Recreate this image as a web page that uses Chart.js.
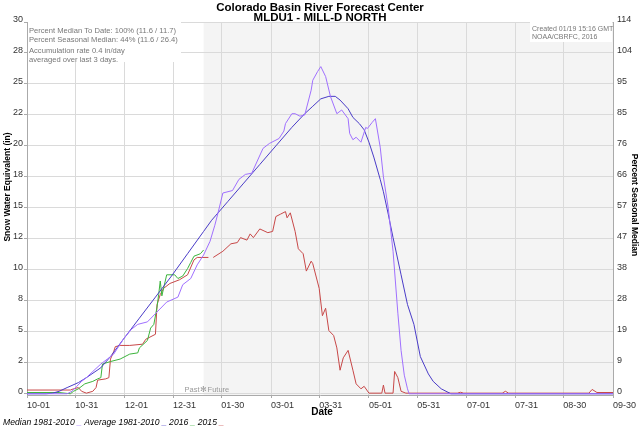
<!DOCTYPE html>
<html>
<head>
<meta charset="utf-8">
<script src="https://cdn.jsdelivr.net/npm/chart.js@4.4.1/dist/chart.umd.min.js"></script>
<style>
  html, body { margin: 0; padding: 0; background: #fff; }
  #wrap { width: 640px; height: 427px; }
</style>
</head>
<body>
<div id="wrap"><canvas id="sweChart" width="640" height="427"></canvas></div>
<script>
// x values are days since 10-01 (water year 2016 calendar)
const xTickDays   = [0, 30, 61, 91, 121, 152, 182, 213, 243, 274, 304, 334, 365];
const xTickLabels = ['10-01', '10-31', '12-01', '12-31', '01-30', '03-01', '03-31',
                     '05-01', '05-31', '07-01', '07-31', '08-30', '09-30'];

const yTickValues   = [0, 2.5, 5, 7.5, 10, 12.5, 15, 17.5, 20, 22.5, 25, 27.5, 30];
const sweTickLabels = ['0', '2', '5', '8', '10', '12', '15', '18', '20', '22', '25', '28', '30'];
const pctTickLabels = ['0', '9', '19', '28', '38', '47', '57', '66', '76', '85', '95', '104', '114'];

const todayDay = 110; // 01-19, past / future split

// Median 1981-2010
const medianDays = [0, 25, 28, 31, 34, 37, 41, 46, 50, 54, 57, 60, 65, 69, 75, 81, 87, 94, 97, 102,
  106, 110, 114, 117, 119, 122, 128, 132, 136, 140, 147, 151, 157, 160, 161, 165, 167, 170, 173, 177,
  178, 181, 183, 186, 189, 193, 196, 200, 201, 203, 205, 208, 211, 212, 215, 217, 220, 222, 225, 228,
  231, 233, 235, 237, 238, 365];
const medianSwe = [0, 0, 0.2, 0.6, 1.0, 1.3, 1.8, 2.4, 2.8, 3.2, 3.8, 4.4, 5.2, 5.6, 5.8, 6.6, 7.4, 7.8, 8.8, 9.3,
  10.4, 11.2, 12.3, 13.6, 14.6, 16.2, 16.4, 17.3, 17.7, 17.8, 19.8, 20.2, 20.6, 21.2, 21.8, 22.6, 22.6, 22.4, 22.5, 24.5,
  25.3, 26.0, 26.4, 25.6, 24.0, 22.6, 22.9, 22.2, 21.0, 20.5, 20.7, 20.3, 21.5, 21.4, 21.9, 22.2, 19.9, 17.5, 15.0, 11.5,
  6.5, 3.5, 1.5, 0.4, 0, 0];

// Average 1981-2010
const averageDays = [0, 12, 16, 20, 25, 32, 37, 46, 52, 60, 70, 80, 90, 100, 110, 115, 125, 135, 145, 155,
  165, 173, 178, 183, 188, 192, 195, 200, 203, 207, 210, 213, 216, 220, 222, 225, 228, 233, 237, 241,
  245, 250, 253, 258, 264, 365];
const averageSwe = [0, 0, 0.05, 0.2, 0.5, 0.9, 1.3, 2.1, 3.0, 4.4, 6.1, 7.8, 9.5, 11.3, 13.1, 14.0, 15.5, 17.0, 18.5, 20.0,
  21.5, 22.6, 23.2, 23.8, 24.0, 24.0, 23.7, 23.0, 22.3, 21.8, 21.3, 20.3, 19.1, 17.3, 16.3, 14.5, 12.6, 9.6, 7.2, 5.6,
  3.0, 1.6, 1.0, 0.4, 0, 0];

// 2016 (to date)
const wy2016Days = [0, 20, 27, 29, 32, 36, 41, 44, 46, 47, 52, 58, 64, 69, 70, 75, 77, 79, 81, 82,
  83, 84, 87, 92, 94, 97, 100, 102, 104, 108, 110];
const wy2016Swe = [0.1, 0.1, 0, 0.2, 0.4, 0.8, 1.0, 1.2, 1.3, 2.4, 2.6, 2.8, 3.2, 3.3, 3.7, 4.3, 5.3, 5.6, 7.0, 8.0,
  9.1, 7.9, 9.6, 9.6, 9.3, 9.5, 10.1, 10.6, 11.1, 11.3, 11.6];

// 2015
const wy2015Days = [0, 27, 29, 32, 34, 37, 41, 43, 44, 49, 51, 52, 54, 55, 58, 64, 72, 74, 80, 81,
  83, 85, 89, 95, 100, 104, 106, 113, 114, 116, 122, 127, 131, 133, 137, 139, 141, 145, 150, 153,
  155, 158, 161, 162, 164, 167, 169, 172, 174, 177, 178, 182, 184, 186, 188, 191, 193, 195, 197, 200,
  203, 205, 208, 210, 213, 221, 222, 223, 228, 229, 231, 233, 236, 268, 270, 272, 296, 298, 300, 350,
  352, 355, 365];
const wy2015Swe = [0.3, 0.3, 0.4, 0.5, 0.2, 0.05, 0.2, 0.5, 1.1, 1.2, 1.3, 2.8, 3.4, 3.8, 3.9, 3.9, 4.0, 4.4, 4.8, 7.2,
  8.0, 8.5, 8.9, 9.2, 9.6, 10.8, 11.0, 11.0, null, 11.0, 11.5, 12.1, 12.2, 12.6, 12.4, 12.9, 12.6, 13.3, 13.0, 13.1,
  14.3, 14.5, 14.7, 14.2, 14.6, 13.1, 11.7, 11.3, 9.9, 10.7, 10.5, 8.5, 6.3, 6.9, 5.1, 4.7, 3.7, 1.9, 2.9, 3.5,
  1.9, 0.8, 0.4, 0.6, 0.05, 0.05, 0.7, 0.05, 0.05, 1.8, 1.3, 0.2, 0.05, 0.05, 0.12, 0.05, 0.05, 0.2, 0.05, 0.05,
  0.35, 0.1, 0.1];

const FONT = "'Liberation Sans', Arial, sans-serif";
const pts = (days, vals) => days.map((d, i) => ({ x: d, y: vals[i] }));

// plot background: white past, light grey future
const backdrop = {
  id: 'backdrop',
  beforeDraw(chart) {
    const { ctx, chartArea: a, scales: { x } } = chart;
    const split = x.getPixelForValue(todayDay);
    ctx.save();
    ctx.fillStyle = '#ffffff';
    ctx.fillRect(a.left, a.top, split - a.left, a.bottom - a.top);
    ctx.fillStyle = '#f4f4f4';
    ctx.fillRect(split, a.top, a.right - split, a.bottom - a.top);
    ctx.restore();
  }
};

// titles, notes and the text-style legend
const labels = {
  id: 'labels',
  afterDraw(chart) {
    const { ctx, chartArea: a, scales: { x } } = chart;
    ctx.save();

    // note boxes
    ctx.fillStyle = '#ffffff';
    ctx.fillRect(a.left + 1, a.top, 153, 40);
    ctx.fillRect(530, a.top, a.right - 531, 20);
    ctx.fillStyle = '#777';
    ctx.textAlign = 'left';
    ctx.textBaseline = 'middle';
    ctx.font = `7.6px ${FONT}`;
    ctx.fillText('Percent Median To Date: 100% (11.6 / 11.7)', 29, 31);
    ctx.fillText('Percent Seasonal Median: 44% (11.6 / 26.4)', 29, 39.5);
    ctx.fillText('Accumulation rate 0.4 in/day', 29, 51);
    ctx.fillText('averaged over last 3 days.', 29, 60);
    ctx.font = `7px ${FONT}`;
    ctx.fillText('Created 01/19 15:16 GMT', 532, 29);
    ctx.fillText('NOAA/CBRFC, 2016', 532, 37.5);

    // past / future marker
    const split = x.getPixelForValue(todayDay);
    ctx.fillStyle = '#999';
    ctx.font = `7.5px ${FONT}`;
    ctx.textAlign = 'right';
    ctx.fillText('Past', split - 4, 390);
    ctx.textAlign = 'center';
    ctx.fillText('\u273B', split, 390);
    ctx.textAlign = 'left';
    ctx.fillText('Future', split + 4, 390);

    // main title
    ctx.fillStyle = '#000';
    ctx.textAlign = 'center';
    ctx.textBaseline = 'alphabetic';
    ctx.font = `bold 11.5px ${FONT}`;
    ctx.fillText('Colorado Basin River Forecast Center', 320, 11);
    ctx.fillText('MLDU1 - MILL-D NORTH', 320, 21);

    // axis titles
    ctx.font = `bold 10px ${FONT}`;
    ctx.fillText('Date', 322, 415);
    ctx.font = `bold 8.5px ${FONT}`;
    ctx.textBaseline = 'middle';
    ctx.save();
    ctx.translate(8, 187);
    ctx.rotate(-Math.PI / 2);
    ctx.fillText('Snow Water Equivalent (in)', 0, 0);
    ctx.restore();
    ctx.save();
    ctx.translate(634, 205);
    ctx.rotate(Math.PI / 2);
    ctx.fillText('Percent Seasonal Median', 0, 0);
    ctx.restore();

    // legend: label followed by a coloured underscore
    ctx.font = `italic 8.6px ${FONT}`;
    ctx.textAlign = 'left';
    ctx.textBaseline = 'alphabetic';
    let lx = 3;
    chart.data.datasets.forEach(ds => {
      ctx.fillStyle = '#000';
      ctx.fillText(ds.label + ' ', lx, 425);
      lx += ctx.measureText(ds.label + ' ').width;
      ctx.fillStyle = ds.borderColor;
      ctx.fillText('_', lx, 425);
      lx += ctx.measureText('_ ').width;
    });
    ctx.restore();
  }
};

const ctx = document.getElementById('sweChart');
new Chart(ctx, {
  type: 'line',
  data: {
    datasets: [
      { label: 'Median 1981-2010',  data: pts(medianDays, medianSwe),   borderColor: '#a070ff' },
      { label: 'Average 1981-2010', data: pts(averageDays, averageSwe), borderColor: '#4a3cc8' },
      { label: '2016',              data: pts(wy2016Days, wy2016Swe),   borderColor: '#3cb43c' },
      { label: '2015',              data: pts(wy2015Days, wy2015Swe),   borderColor: '#c84848' }
    ]
  },
  options: {
    responsive: false,
    animation: false,
    layout: { padding: { top: 22, left: 0, right: 0, bottom: 0 } },
    elements: {
      point: { radius: 0 },
      line: { borderWidth: 1, tension: 0, spanGaps: false }
    },
    plugins: {
      legend: { display: false },
      title: { display: false },
      tooltip: { enabled: false }
    },
    scales: {
      x: {
        type: 'linear',
        min: 0,
        max: 365,
        afterBuildTicks: s => { s.ticks = xTickDays.map(v => ({ value: v })); },
        afterFit: s => { s.height = 32; },
        ticks: {
          autoSkip: false, maxRotation: 0, minRotation: 0, align: 'start', padding: 2,
          color: '#333', font: { size: 9, family: FONT },
          callback: (v, i) => xTickLabels[i]
        },
        grid: { color: '#dadada', tickLength: 3, tickColor: '#aaa' },
        border: { color: '#aaa' }
      },
      y: {
        position: 'left',
        min: -0.1,
        max: 30,
        afterBuildTicks: s => { s.ticks = yTickValues.map(v => ({ value: v })); },
        afterFit: s => { s.width = 27; },
        ticks: {
          padding: 1, labelOffset: -2, color: '#333', font: { size: 9, family: FONT },
          callback: (v, i) => sweTickLabels[i]
        },
        grid: { color: '#dadada', tickLength: 3, tickColor: '#aaa' },
        border: { color: '#aaa' }
      },
      y2: {
        position: 'right',
        min: -0.1,
        max: 30,
        afterBuildTicks: s => { s.ticks = yTickValues.map(v => ({ value: v })); },
        afterFit: s => { s.width = 27; },
        ticks: {
          padding: 1, labelOffset: -2, color: '#333', font: { size: 9, family: FONT },
          callback: (v, i) => pctTickLabels[i]
        },
        grid: { display: false, tickLength: 3 },
        border: { color: '#aaa' }
      }
    }
  },
  plugins: [backdrop, labels]
});
</script>
</body>
</html>
